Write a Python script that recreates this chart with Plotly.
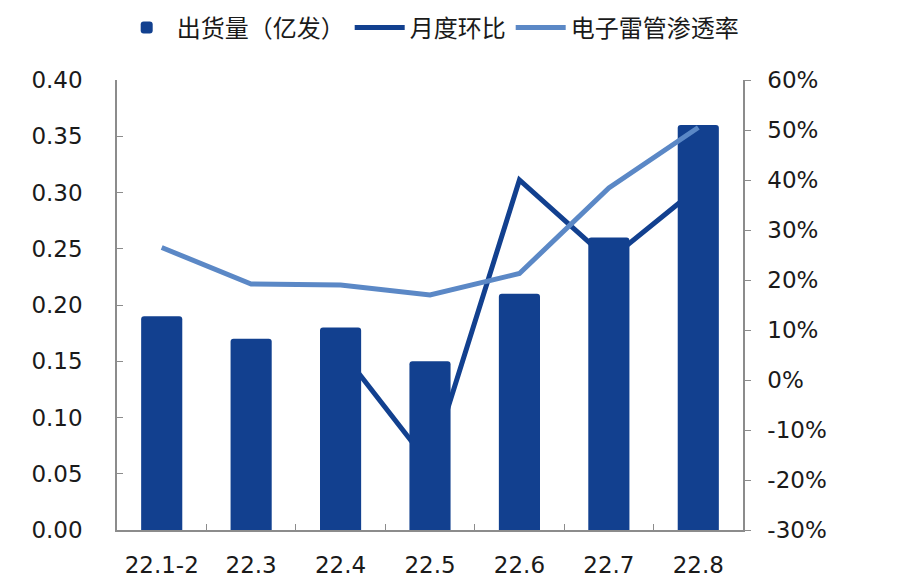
import plotly.graph_objects as go

categories = ["22.1-2", "22.3", "22.4", "22.5", "22.6", "22.7", "22.8"]
shipments = [0.19, 0.17, 0.18, 0.15, 0.21, 0.26, 0.36]          # 出货量（亿发）
mom = [None, None, 0.06, -0.17, 0.40, 0.24, 0.385]              # 月度环比
penetration = [0.265, 0.192, 0.19, 0.17, 0.213, 0.384, 0.505]    # 电子雷管渗透率

left_ticks = [0, 0.05, 0.10, 0.15, 0.20, 0.25, 0.30, 0.35, 0.40]
right_ticks = [-0.3, -0.2, -0.1, 0, 0.1, 0.2, 0.3, 0.4, 0.5, 0.6]
right_labels = ["-30%", "-20%", "-10%", "0%", "10%", "20%", "30%", "40%", "50%", "60%"]

BAR = "#12408F"
DARK = "#12408F"
LIGHT = "#5B88C6"
AX = "#8C8C8C"
FONT = "DejaVu Sans, Verdana, sans-serif"
CJK = "Noto Sans CJK SC"

fig = go.Figure()

# dark MoM line (drawn behind bars)
fig.add_trace(go.Scatter(
    x=categories, y=mom, name="月度环比", mode="lines",
    line=dict(color=DARK, width=5), yaxis="y", legendrank=2,
))
# bars on left axis
fig.add_trace(go.Bar(
    x=categories, y=shipments, name="出货量（亿发）",
    marker=dict(color=BAR, line=dict(width=0)),
    width=0.46, yaxis="y2", legendrank=1,
))
# light penetration line (on top)
fig.add_trace(go.Scatter(
    x=categories, y=penetration, name="电子雷管渗透率", mode="lines",
    line=dict(color=LIGHT, width=5), yaxis="y3", legendrank=3,
))

fig.update_layout(
    width=906, height=588,
    margin=dict(l=109, r=171, t=72, b=66, autoexpand=False),
    paper_bgcolor="white", plot_bgcolor="white",
    barcornerradius=3,
    font=dict(family=FONT, size=23, color="#1a1a1a"),
    showlegend=True,
    legend=dict(
        orientation="h", xref="container", x=0.466, xanchor="center",
        yref="container", y=0.966, yanchor="middle",
        font=dict(family=CJK, size=24, color="#1a1a1a"),
        itemwidth=50, tracegroupgap=0,
        bgcolor="rgba(0,0,0,0)",
    ),
    xaxis=dict(
        type="category", range=[-0.5, 6.5], automargin=False,
        showline=True, linecolor=AX, linewidth=1.5,
        ticks="inside", ticklen=6, tickcolor=AX, tickson="boundaries",
        ticklabelstandoff=14,
        showgrid=False, zeroline=False,
        tickfont=dict(family=FONT, size=23),
    ),
    yaxis=dict(
        side="right", range=[-0.3, 0.6], tickvals=right_ticks, ticktext=right_labels,
        automargin=False,
        showline=True, linecolor=AX, linewidth=1.5,
        ticks="outside", ticklen=6, tickcolor=AX,
        ticklabelstandoff=12,
        showgrid=False, zeroline=False,
        tickfont=dict(family=FONT, size=23),
    ),
    yaxis2=dict(
        side="left", overlaying="y", range=[0, 0.4], tickvals=left_ticks, tickformat=".2f",
        automargin=False,
        showline=True, linecolor=AX, linewidth=1.5,
        ticks="inside", ticklen=6, tickcolor=AX,
        ticklabelstandoff=28,
        showgrid=False, zeroline=False,
        tickfont=dict(family=FONT, size=23),
    ),
    yaxis3=dict(
        side="right", overlaying="y", range=[-0.3, 0.6], automargin=False,
        showline=False, showticklabels=False, ticks="",
        showgrid=False, zeroline=False,
    ),
)

fig.write_html("out.html")
